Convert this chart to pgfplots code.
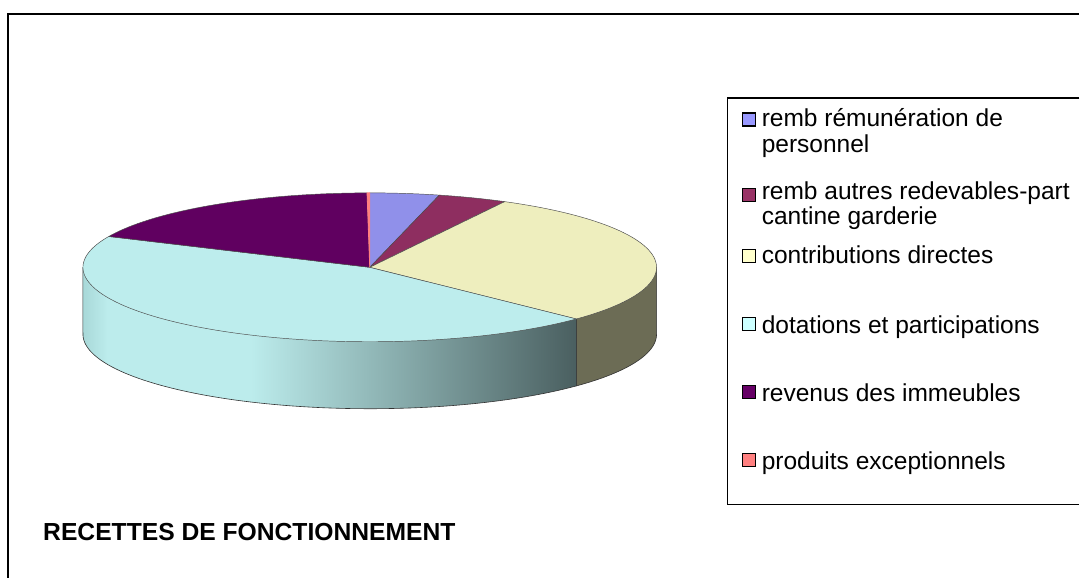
\documentclass[border=0pt]{standalone}
\usepackage{fontspec}
\setmainfont{Liberation Sans}
\usepackage{pgfplots}
\pgfplotsset{compat=1.18}

% legend colours
\definecolor{lA}{HTML}{9999FF}
\definecolor{lB}{HTML}{993366}
\definecolor{lC}{HTML}{FFFFCC}
\definecolor{lD}{HTML}{CCFFFF}
\definecolor{lE}{HTML}{660066}
\definecolor{lF}{HTML}{FF8080}
% top face colours
\definecolor{tA}{HTML}{9090EA}
\definecolor{tB}{HTML}{8E2E60}
\definecolor{tC}{HTML}{EEEEBE}
\definecolor{tD}{HTML}{BDEDED}
\definecolor{tE}{HTML}{600060}
\definecolor{tF}{HTML}{FF8080}
% side colours
\definecolor{sC}{HTML}{6C6C55}
\definecolor{sDa}{HTML}{A8D8D8}
\definecolor{sDb}{HTML}{BCECEC}
\definecolor{sDc}{HTML}{8FB5B5}
\definecolor{sDd}{HTML}{4A5F60}
\pgfdeclarehorizontalshading{sidegrad}{100bp}{color(0bp)=(sDa); color(25bp)=(sDa); color(27.5bp)=(sDb); color(42bp)=(sDb); color(55bp)=(sDc); color(75bp)=(sDd); color(100bp)=(sDd)}

% data (percent), in legend order, clockwise from 12 o'clock
\def\vA{3.9}   % remb remuneration de personnel
\def\vB{3.9}   % remb autres redevables
\def\vC{29.4}  % contributions directes
\def\vD{44.6}  % dotations et participations
\def\vE{18.05} % revenus des immeubles
\def\vF{0.15}  % produits exceptionnels

% geometry (pixel units)
\def\cx{370}
\def\cy{267.5}
\def\rx{287}
\def\ry{74.5}
\def\dep{67}
\pgfmathsetmacro\aA{0}
\pgfmathsetmacro\aB{\aA+3.6*\vA}
\pgfmathsetmacro\aC{\aB+3.6*\vB}
\pgfmathsetmacro\aD{\aC+3.6*\vC}
\pgfmathsetmacro\aE{\aD+3.6*\vD}
\pgfmathsetmacro\aF{\aE+3.6*\vE}
\pgfmathsetmacro\aG{\aF+3.6*\vF}
\pgfmathsetmacro\xD{\cx+\rx*sin(\aD)}
\pgfmathsetmacro\xR{\cx+\rx}
\pgfmathsetmacro\xL{\cx-\rx}

\newcommand\legfont{\fontsize{18.4bp}{22bp}\selectfont}

\begin{document}
\begin{tikzpicture}
\begin{axis}[
  scale only axis, width=810bp, height=433.5bp,
  xmin=0, xmax=1080, ymin=0, ymax=578, y dir=reverse,
  hide axis, clip=false,
  every axis plot/.append style={line join=round},
]
\path (axis cs:0,0) rectangle (axis cs:1080,578);

% outer frame (left and top edges)
\draw[black, line width=1.1bp] (axis cs:8,578) -- (axis cs:8,14) -- (axis cs:1080,14);

% side walls
\addplot[fill=sC, draw=black!80, line width=0.45bp, variable=\t, domain=90:\aD, samples=40]
  ({\cx+\rx*sin(\t)},{\cy+\dep-\ry*cos(\t)}) -- (axis cs:\xD,\cy) -- (axis cs:\xR,\cy) -- cycle;
\addplot[shade, shading=sidegrad, draw=black!80, line width=0.45bp, variable=\t, domain=\aD:270, samples=80]
  ({\cx+\rx*sin(\t)},{\cy+\dep-\ry*cos(\t)}) -- (axis cs:\xL,\cy) -- (axis cs:\xD,\cy) -- cycle;

% top faces
\addplot[fill=tA, draw=black!70, line width=0.35bp, variable=\t, domain=\aA:\aB, samples=20]
  ({\cx+\rx*sin(\t)},{\cy-\ry*cos(\t)}) -- (axis cs:\cx,\cy) -- cycle;
\addplot[fill=tB, draw=black!70, line width=0.35bp, variable=\t, domain=\aB:\aC, samples=20]
  ({\cx+\rx*sin(\t)},{\cy-\ry*cos(\t)}) -- (axis cs:\cx,\cy) -- cycle;
\addplot[fill=tC, draw=black!70, line width=0.35bp, variable=\t, domain=\aC:\aD, samples=60]
  ({\cx+\rx*sin(\t)},{\cy-\ry*cos(\t)}) -- (axis cs:\cx,\cy) -- cycle;
\addplot[fill=tD, draw=black!70, line width=0.35bp, variable=\t, domain=\aD:\aE, samples=90]
  ({\cx+\rx*sin(\t)},{\cy-\ry*cos(\t)}) -- (axis cs:\cx,\cy) -- cycle;
\addplot[fill=tE, draw=black!70, line width=0.35bp, variable=\t, domain=\aE:\aF, samples=40]
  ({\cx+\rx*sin(\t)},{\cy-\ry*cos(\t)}) -- (axis cs:\cx,\cy) -- cycle;
\addplot[fill=tF, draw=tF, line width=0.6bp, variable=\t, domain=\aF:\aG, samples=5]
  ({\cx+\rx*sin(\t)},{\cy-\ry*cos(\t)}) -- (axis cs:\cx,\cy) -- cycle;

% legend box
\draw[black, line width=1.1bp] (axis cs:1080,98) -- (axis cs:728,98) -- (axis cs:728,505) -- (axis cs:1080,505);
\draw[black, line width=0.9bp, fill=lA] (axis cs:743,113) rectangle (axis cs:756,126);
\draw[black, line width=0.9bp, fill=lB] (axis cs:743,189) rectangle (axis cs:756,202);
\draw[black, line width=0.9bp, fill=lC] (axis cs:743,250) rectangle (axis cs:756,263);
\draw[black, line width=0.9bp, fill=lD] (axis cs:743,318) rectangle (axis cs:756,331);
\draw[black, line width=0.9bp, fill=lE] (axis cs:743,386) rectangle (axis cs:756,399);
\draw[black, line width=0.9bp, fill=lF] (axis cs:743,454) rectangle (axis cs:756,467);
\node[anchor=base west, inner sep=0pt, font=\legfont] at (axis cs:762,127) {remb rémunération de};
\node[anchor=base west, inner sep=0pt, font=\legfont] at (axis cs:762,153) {personnel};
\node[anchor=base west, inner sep=0pt, font=\legfont] at (axis cs:762,200) {remb autres redevables-part};
\node[anchor=base west, inner sep=0pt, font=\legfont] at (axis cs:762,225) {cantine garderie};
\node[anchor=base west, inner sep=0pt, font=\legfont] at (axis cs:762,264) {contributions directes};
\node[anchor=base west, inner sep=0pt, font=\legfont] at (axis cs:762,334) {dotations et participations};
\node[anchor=base west, inner sep=0pt, font=\legfont] at (axis cs:762,402) {revenus des immeubles};
\node[anchor=base west, inner sep=0pt, font=\legfont] at (axis cs:762,470) {produits exceptionnels};

% title
\node[anchor=base west, inner sep=0pt, font=\fontsize{18.5bp}{22bp}\selectfont\bfseries] at (axis cs:43,541) {RECETTES DE FONCTIONNEMENT};
\end{axis}
\end{tikzpicture}
\end{document}
